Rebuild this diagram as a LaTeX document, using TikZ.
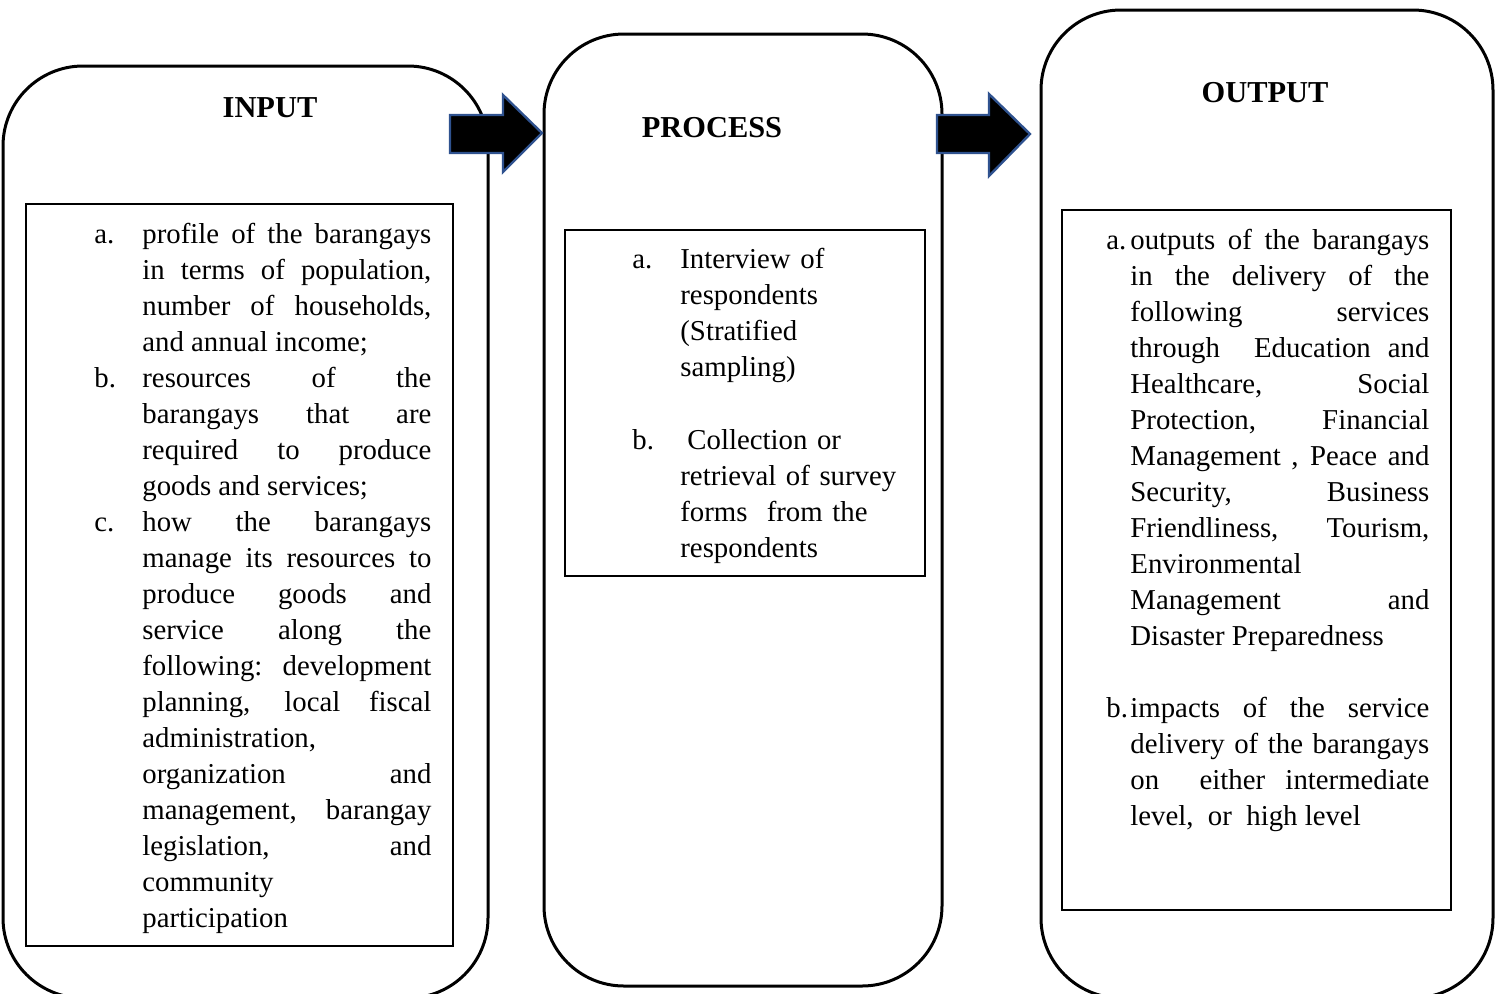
\documentclass[tikz,border=0pt]{standalone}
\usepackage{fontspec}
\setmainfont{Liberation Serif}
\usepackage{tikz}
\definecolor{arrowblue}{RGB}{47,82,143}
\newcommand{\bodyfont}{\fontsize{14.4}{18}\selectfont}
\tikzset{
  stage/.style={draw, line width=1.5pt, rounded corners=40pt, inner sep=0pt},
  listbox/.style={draw, line width=0.75pt, inner sep=0pt},
  heading/.style={font=\fontsize{15.2}{18}\selectfont\bfseries},
  itemlabel/.style={anchor=base west, inner sep=0pt, font=\bodyfont},
  itemtext/.style={anchor=base west, inner sep=0pt, align=justify, font=\bodyfont},
  blockarrow/.style={fill=black, draw=arrowblue, line width=1.2pt, line join=miter}
}

\begin{document}
\begin{tikzpicture}[x=0.5pt, y=-0.5pt]
\useasboundingbox (0,0) rectangle (1501,993);
\clip (0,0) rectangle (1501,993);

% Three stages
\node[stage, minimum width=242.5pt, minimum height=466pt] (input) at (245.5,532) {};
\node[stage, minimum width=199pt, minimum height=476pt] (process) at (743,510) {};
\node[stage, minimum width=226pt, minimum height=494pt] (output) at (1267,504) {};

% Headings
\node[heading] (inputtitle) at (270,108) {INPUT};
\node[heading] (processtitle) at (712,128) {PROCESS};
\node[heading] (outputtitle) at (1265,93) {OUTPUT};

% Inner boxes
\node[listbox, minimum width=213.5pt, minimum height=371pt] (inputlist) at (239.5,575) {};
\node[listbox, minimum width=180pt, minimum height=173pt] (processlist) at (745,403) {};
\node[listbox, minimum width=194.5pt, minimum height=350pt] (outputlist) at (1256.5,560) {};

% Block arrows
\filldraw[blockarrow] (450,115) -- (503,115) -- (503,95) -- (542,133) -- (503,172) -- (503,153) -- (450,153) -- cycle;
\filldraw[blockarrow] (937,115) -- (989,115) -- (989,94) -- (1030,134) -- (989,176) -- (989,153) -- (937,153) -- cycle;

% Input items
\node[itemlabel] (ina) at (94,243) {a.};
\node[itemtext, text width=144.5pt] (inatext) at (142,243) {profile of the barangays\linebreak in terms of population,\linebreak number of households,\linebreak and annual income;};
\node[itemlabel] (inb) at (94,387) {b.};
\node[itemtext, text width=144.5pt] (inbtext) at (142,387) {resources of the\linebreak barangays that are\linebreak required to produce\linebreak goods and services;};
\node[itemlabel] (inc) at (94,531) {c.};
\node[itemtext, text width=144.5pt] (inctext) at (142,531) {how the barangays\linebreak manage its resources to\linebreak produce goods and\linebreak service along the\linebreak following: development\linebreak planning, local fiscal\linebreak administration,\linebreak organization and\linebreak management, barangay\linebreak legislation, and\linebreak community\linebreak participation};

% Process items
\node[itemlabel] (pra) at (632,268) {a.};
\node[itemtext, align=left, text width=120pt] (pratext) at (680,268) {Interview of\\ respondents\\ (Stratified\\ sampling)};
\node[itemlabel] (prb) at (632,449) {b.};
\node[itemtext, align=left, text width=120pt] (prbtext) at (680,449) {\hspace*{3.5pt}Collection or\\ retrieval of survey\\ forms~ from the\\ respondents};

% Output items
\node[itemlabel] (outa) at (1106,249) {a.};
\node[itemtext, text width=149.5pt] (outatext) at (1130,249) {outputs of the barangays\linebreak in the delivery of the\linebreak following services\linebreak through~ Education and\linebreak Healthcare, Social\linebreak Protection, Financial\linebreak Management , Peace and\linebreak Security, Business\linebreak Friendliness, Tourism,\linebreak Environmental\linebreak Management and\linebreak Disaster Preparedness};
\node[itemlabel] (outb) at (1106,717) {b.};
\node[itemtext, text width=149.5pt] (outbtext) at (1130,717) {impacts of the service\linebreak delivery of the barangays\linebreak on~ either intermediate\linebreak level,~ or~ high level};
\end{tikzpicture}
\end{document}
